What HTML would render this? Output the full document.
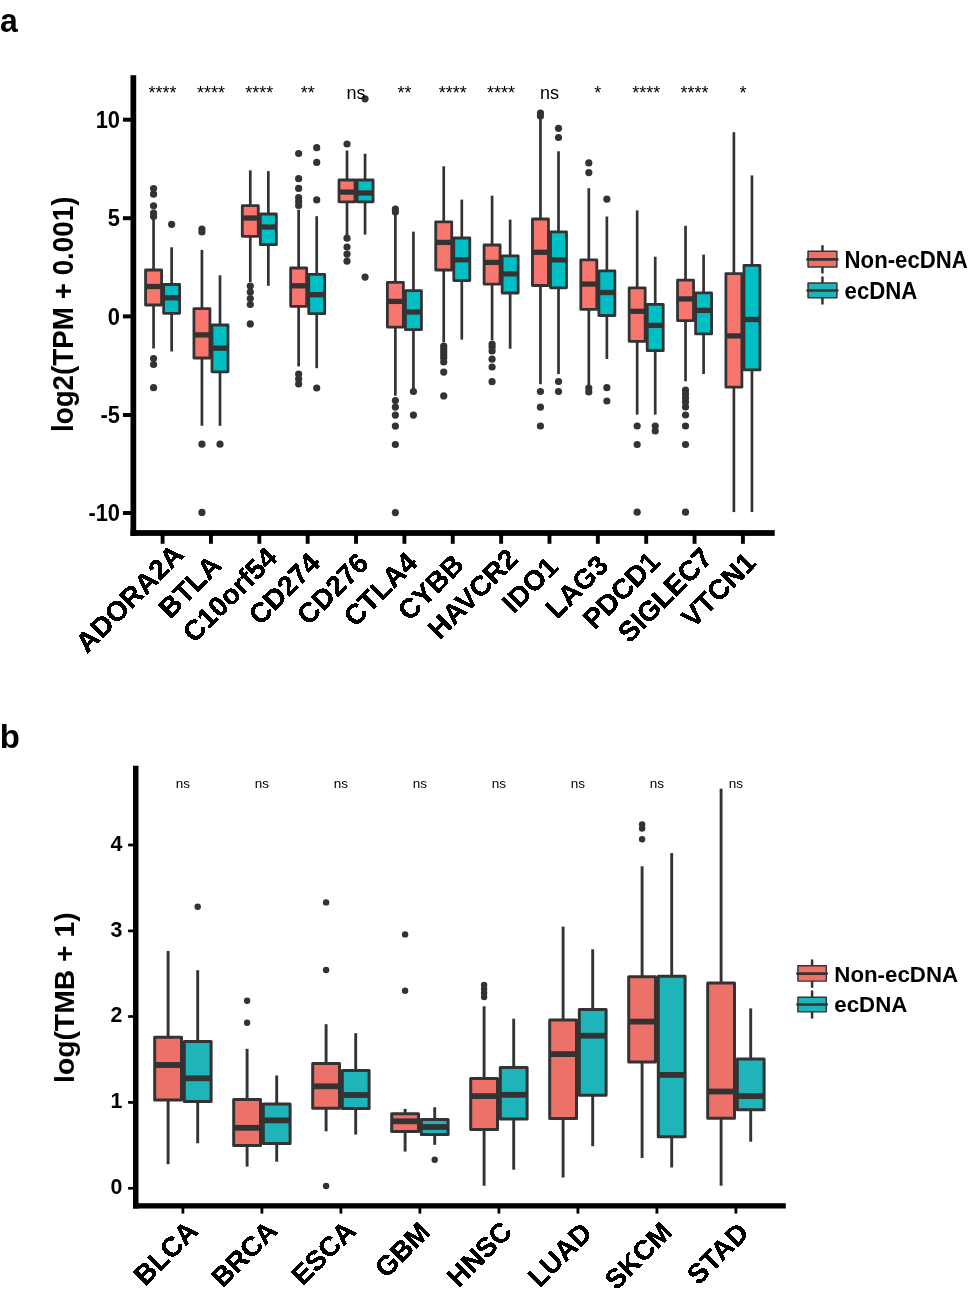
<!DOCTYPE html>
<html><head><meta charset="utf-8"><title>Boxplots</title>
<style>
html,body{margin:0;padding:0;background:#fff;}
body{width:969px;height:1299px;overflow:hidden;font-family:"Liberation Sans",sans-serif;}
svg{display:block;will-change:transform;}
</style></head>
<body>
<svg width="969" height="1299" viewBox="0 0 969 1299">
<defs><filter id="crisp" x="-0.05" y="-0.05" width="1.1" height="1.1"><feComponentTransfer><feFuncA type="discrete" tableValues="0 1 1 1"/></feComponentTransfer></filter></defs>
<rect width="969" height="1299" fill="#fff"/>
<text transform="translate(-0.1,32.4) scale(0.94,1)" font-family="Liberation Sans, sans-serif" font-weight="bold" font-size="34">a</text>
<text x="-0.2" y="748" font-family="Liberation Sans, sans-serif" font-weight="bold" font-size="33">b</text>
<g stroke="#333333" stroke-linejoin="round" fill="none">
<line x1="153.57" y1="219" x2="153.57" y2="270" stroke-width="2.7"/>
<line x1="153.57" y1="305" x2="153.57" y2="348.5" stroke-width="2.7"/>
<rect x="145.57" y="270" width="16" height="35" fill="#F8766D" stroke-width="2.8"/>
<line x1="145.57" y1="286.5" x2="161.57" y2="286.5" stroke-width="5.3"/>
<circle cx="153.57" cy="188.5" r="3.6" fill="#333" stroke="none"/>
<circle cx="153.57" cy="194.2" r="3.6" fill="#333" stroke="none"/>
<circle cx="153.57" cy="205.8" r="3.6" fill="#333" stroke="none"/>
<circle cx="153.57" cy="213" r="3.6" fill="#333" stroke="none"/>
<circle cx="153.57" cy="216.5" r="3.6" fill="#333" stroke="none"/>
<circle cx="153.57" cy="358.5" r="3.6" fill="#333" stroke="none"/>
<circle cx="153.57" cy="364.5" r="3.6" fill="#333" stroke="none"/>
<circle cx="153.57" cy="387.7" r="3.6" fill="#333" stroke="none"/>
<line x1="171.63" y1="247.3" x2="171.63" y2="284.5" stroke-width="2.7"/>
<line x1="171.63" y1="313.3" x2="171.63" y2="351.5" stroke-width="2.7"/>
<rect x="163.63" y="284.5" width="16" height="28.8" fill="#00BFC4" stroke-width="2.8"/>
<line x1="163.63" y1="297.8" x2="179.63" y2="297.8" stroke-width="5.3"/>
<circle cx="171.63" cy="224.3" r="3.6" fill="#333" stroke="none"/>
<line x1="201.93" y1="249.9" x2="201.93" y2="308.7" stroke-width="2.7"/>
<line x1="201.93" y1="358" x2="201.93" y2="425.8" stroke-width="2.7"/>
<rect x="193.93" y="308.7" width="16" height="49.3" fill="#F8766D" stroke-width="2.8"/>
<line x1="193.93" y1="334.9" x2="209.93" y2="334.9" stroke-width="5.3"/>
<circle cx="201.93" cy="229" r="3.6" fill="#333" stroke="none"/>
<circle cx="201.93" cy="232" r="3.6" fill="#333" stroke="none"/>
<circle cx="201.93" cy="444.2" r="3.6" fill="#333" stroke="none"/>
<circle cx="201.93" cy="512.4" r="3.6" fill="#333" stroke="none"/>
<line x1="219.99" y1="275.3" x2="219.99" y2="325" stroke-width="2.7"/>
<line x1="219.99" y1="371.8" x2="219.99" y2="425.8" stroke-width="2.7"/>
<rect x="211.99" y="325" width="16" height="46.8" fill="#00BFC4" stroke-width="2.8"/>
<line x1="211.99" y1="348.2" x2="227.99" y2="348.2" stroke-width="5.3"/>
<circle cx="219.99" cy="444.2" r="3.6" fill="#333" stroke="none"/>
<line x1="250.29" y1="170.4" x2="250.29" y2="205.6" stroke-width="2.7"/>
<line x1="250.29" y1="236.3" x2="250.29" y2="282" stroke-width="2.7"/>
<rect x="242.29" y="205.6" width="16" height="30.7" fill="#F8766D" stroke-width="2.8"/>
<line x1="242.29" y1="218" x2="258.29" y2="218" stroke-width="5.3"/>
<circle cx="250.29" cy="286" r="3.6" fill="#333" stroke="none"/>
<circle cx="250.29" cy="292" r="3.6" fill="#333" stroke="none"/>
<circle cx="250.29" cy="298.5" r="3.6" fill="#333" stroke="none"/>
<circle cx="250.29" cy="304.5" r="3.6" fill="#333" stroke="none"/>
<circle cx="250.29" cy="323.9" r="3.6" fill="#333" stroke="none"/>
<line x1="268.35" y1="171.1" x2="268.35" y2="214" stroke-width="2.7"/>
<line x1="268.35" y1="244.7" x2="268.35" y2="285.8" stroke-width="2.7"/>
<rect x="260.35" y="214" width="16" height="30.7" fill="#00BFC4" stroke-width="2.8"/>
<line x1="260.35" y1="227" x2="276.35" y2="227" stroke-width="5.3"/>
<line x1="298.65" y1="209.7" x2="298.65" y2="268" stroke-width="2.7"/>
<line x1="298.65" y1="306.3" x2="298.65" y2="366.4" stroke-width="2.7"/>
<rect x="290.65" y="268" width="16" height="38.3" fill="#F8766D" stroke-width="2.8"/>
<line x1="290.65" y1="285.8" x2="306.65" y2="285.8" stroke-width="5.3"/>
<circle cx="298.65" cy="153.5" r="3.6" fill="#333" stroke="none"/>
<circle cx="298.65" cy="178.7" r="3.6" fill="#333" stroke="none"/>
<circle cx="298.65" cy="188.4" r="3.6" fill="#333" stroke="none"/>
<circle cx="298.65" cy="197.5" r="3.6" fill="#333" stroke="none"/>
<circle cx="298.65" cy="201.5" r="3.6" fill="#333" stroke="none"/>
<circle cx="298.65" cy="205.5" r="3.6" fill="#333" stroke="none"/>
<circle cx="298.65" cy="374" r="3.6" fill="#333" stroke="none"/>
<circle cx="298.65" cy="379" r="3.6" fill="#333" stroke="none"/>
<circle cx="298.65" cy="384" r="3.6" fill="#333" stroke="none"/>
<line x1="316.71" y1="216.2" x2="316.71" y2="274.4" stroke-width="2.7"/>
<line x1="316.71" y1="313.7" x2="316.71" y2="368.2" stroke-width="2.7"/>
<rect x="308.71" y="274.4" width="16" height="39.3" fill="#00BFC4" stroke-width="2.8"/>
<line x1="308.71" y1="294.7" x2="324.71" y2="294.7" stroke-width="5.3"/>
<circle cx="316.71" cy="147.7" r="3.6" fill="#333" stroke="none"/>
<circle cx="316.71" cy="162.4" r="3.6" fill="#333" stroke="none"/>
<circle cx="316.71" cy="199.9" r="3.6" fill="#333" stroke="none"/>
<circle cx="316.71" cy="388" r="3.6" fill="#333" stroke="none"/>
<line x1="347.01" y1="150.5" x2="347.01" y2="180" stroke-width="2.7"/>
<line x1="347.01" y1="201.8" x2="347.01" y2="235.5" stroke-width="2.7"/>
<rect x="339.01" y="180" width="16" height="21.8" fill="#F8766D" stroke-width="2.8"/>
<line x1="339.01" y1="192.1" x2="355.01" y2="192.1" stroke-width="5.3"/>
<circle cx="347.01" cy="144" r="3.6" fill="#333" stroke="none"/>
<circle cx="347.01" cy="238.2" r="3.6" fill="#333" stroke="none"/>
<circle cx="347.01" cy="247" r="3.6" fill="#333" stroke="none"/>
<circle cx="347.01" cy="254.1" r="3.6" fill="#333" stroke="none"/>
<circle cx="347.01" cy="261.2" r="3.6" fill="#333" stroke="none"/>
<line x1="365.07" y1="153.7" x2="365.07" y2="180" stroke-width="2.7"/>
<line x1="365.07" y1="201.8" x2="365.07" y2="234.6" stroke-width="2.7"/>
<rect x="357.07" y="180" width="16" height="21.8" fill="#00BFC4" stroke-width="2.8"/>
<line x1="357.07" y1="193" x2="373.07" y2="193" stroke-width="5.3"/>
<circle cx="365.07" cy="98.8" r="3.6" fill="#333" stroke="none"/>
<circle cx="365.07" cy="277.1" r="3.6" fill="#333" stroke="none"/>
<line x1="395.37" y1="213" x2="395.37" y2="282.3" stroke-width="2.7"/>
<line x1="395.37" y1="327.1" x2="395.37" y2="395.7" stroke-width="2.7"/>
<rect x="387.37" y="282.3" width="16" height="44.8" fill="#F8766D" stroke-width="2.8"/>
<line x1="387.37" y1="301.4" x2="403.37" y2="301.4" stroke-width="5.3"/>
<circle cx="395.37" cy="209" r="3.6" fill="#333" stroke="none"/>
<circle cx="395.37" cy="212" r="3.6" fill="#333" stroke="none"/>
<circle cx="395.37" cy="400.5" r="3.6" fill="#333" stroke="none"/>
<circle cx="395.37" cy="407.1" r="3.6" fill="#333" stroke="none"/>
<circle cx="395.37" cy="415.1" r="3.6" fill="#333" stroke="none"/>
<circle cx="395.37" cy="426.1" r="3.6" fill="#333" stroke="none"/>
<circle cx="395.37" cy="444.5" r="3.6" fill="#333" stroke="none"/>
<circle cx="395.37" cy="512.6" r="3.6" fill="#333" stroke="none"/>
<line x1="413.43" y1="231.6" x2="413.43" y2="290.7" stroke-width="2.7"/>
<line x1="413.43" y1="329.7" x2="413.43" y2="391" stroke-width="2.7"/>
<rect x="405.43" y="290.7" width="16" height="39" fill="#00BFC4" stroke-width="2.8"/>
<line x1="405.43" y1="312" x2="421.43" y2="312" stroke-width="5.3"/>
<circle cx="413.43" cy="391.5" r="3.6" fill="#333" stroke="none"/>
<circle cx="413.43" cy="415.1" r="3.6" fill="#333" stroke="none"/>
<line x1="443.73" y1="166.3" x2="443.73" y2="221.8" stroke-width="2.7"/>
<line x1="443.73" y1="270" x2="443.73" y2="342.2" stroke-width="2.7"/>
<rect x="435.73" y="221.8" width="16" height="48.2" fill="#F8766D" stroke-width="2.8"/>
<line x1="435.73" y1="242.4" x2="451.73" y2="242.4" stroke-width="5.3"/>
<circle cx="443.73" cy="346" r="3.6" fill="#333" stroke="none"/>
<circle cx="443.73" cy="349" r="3.6" fill="#333" stroke="none"/>
<circle cx="443.73" cy="352" r="3.6" fill="#333" stroke="none"/>
<circle cx="443.73" cy="355" r="3.6" fill="#333" stroke="none"/>
<circle cx="443.73" cy="358" r="3.6" fill="#333" stroke="none"/>
<circle cx="443.73" cy="362" r="3.6" fill="#333" stroke="none"/>
<circle cx="443.73" cy="372.1" r="3.6" fill="#333" stroke="none"/>
<circle cx="443.73" cy="395.9" r="3.6" fill="#333" stroke="none"/>
<line x1="461.79" y1="199.6" x2="461.79" y2="238" stroke-width="2.7"/>
<line x1="461.79" y1="280.6" x2="461.79" y2="339.6" stroke-width="2.7"/>
<rect x="453.79" y="238" width="16" height="42.6" fill="#00BFC4" stroke-width="2.8"/>
<line x1="453.79" y1="259.8" x2="469.79" y2="259.8" stroke-width="5.3"/>
<line x1="492.09" y1="195.7" x2="492.09" y2="245" stroke-width="2.7"/>
<line x1="492.09" y1="284.1" x2="492.09" y2="340.1" stroke-width="2.7"/>
<rect x="484.09" y="245" width="16" height="39.1" fill="#F8766D" stroke-width="2.8"/>
<line x1="484.09" y1="262.4" x2="500.09" y2="262.4" stroke-width="5.3"/>
<circle cx="492.09" cy="344" r="3.6" fill="#333" stroke="none"/>
<circle cx="492.09" cy="347" r="3.6" fill="#333" stroke="none"/>
<circle cx="492.09" cy="351" r="3.6" fill="#333" stroke="none"/>
<circle cx="492.09" cy="359.2" r="3.6" fill="#333" stroke="none"/>
<circle cx="492.09" cy="367" r="3.6" fill="#333" stroke="none"/>
<circle cx="492.09" cy="381.7" r="3.6" fill="#333" stroke="none"/>
<line x1="510.15" y1="219.6" x2="510.15" y2="255.8" stroke-width="2.7"/>
<line x1="510.15" y1="293" x2="510.15" y2="348.7" stroke-width="2.7"/>
<rect x="502.15" y="255.8" width="16" height="37.2" fill="#00BFC4" stroke-width="2.8"/>
<line x1="502.15" y1="273.9" x2="518.15" y2="273.9" stroke-width="5.3"/>
<line x1="540.45" y1="117" x2="540.45" y2="219" stroke-width="2.7"/>
<line x1="540.45" y1="285.5" x2="540.45" y2="384.2" stroke-width="2.7"/>
<rect x="532.45" y="219" width="16" height="66.5" fill="#F8766D" stroke-width="2.8"/>
<line x1="532.45" y1="252.3" x2="548.45" y2="252.3" stroke-width="5.3"/>
<circle cx="540.45" cy="113" r="3.6" fill="#333" stroke="none"/>
<circle cx="540.45" cy="116" r="3.6" fill="#333" stroke="none"/>
<circle cx="540.45" cy="391.5" r="3.6" fill="#333" stroke="none"/>
<circle cx="540.45" cy="407.2" r="3.6" fill="#333" stroke="none"/>
<circle cx="540.45" cy="426" r="3.6" fill="#333" stroke="none"/>
<line x1="558.51" y1="151.3" x2="558.51" y2="231.8" stroke-width="2.7"/>
<line x1="558.51" y1="287.8" x2="558.51" y2="374.1" stroke-width="2.7"/>
<rect x="550.51" y="231.8" width="16" height="56" fill="#00BFC4" stroke-width="2.8"/>
<line x1="550.51" y1="259.9" x2="566.51" y2="259.9" stroke-width="5.3"/>
<circle cx="558.51" cy="128.3" r="3.6" fill="#333" stroke="none"/>
<circle cx="558.51" cy="137.5" r="3.6" fill="#333" stroke="none"/>
<circle cx="558.51" cy="381.5" r="3.6" fill="#333" stroke="none"/>
<circle cx="558.51" cy="391.5" r="3.6" fill="#333" stroke="none"/>
<line x1="588.81" y1="188.2" x2="588.81" y2="259.8" stroke-width="2.7"/>
<line x1="588.81" y1="309.4" x2="588.81" y2="385.6" stroke-width="2.7"/>
<rect x="580.81" y="259.8" width="16" height="49.6" fill="#F8766D" stroke-width="2.8"/>
<line x1="580.81" y1="284.1" x2="596.81" y2="284.1" stroke-width="5.3"/>
<circle cx="588.81" cy="162.9" r="3.6" fill="#333" stroke="none"/>
<circle cx="588.81" cy="172.6" r="3.6" fill="#333" stroke="none"/>
<circle cx="588.81" cy="388" r="3.6" fill="#333" stroke="none"/>
<circle cx="588.81" cy="392" r="3.6" fill="#333" stroke="none"/>
<line x1="606.87" y1="216.5" x2="606.87" y2="270.9" stroke-width="2.7"/>
<line x1="606.87" y1="315.5" x2="606.87" y2="359" stroke-width="2.7"/>
<rect x="598.87" y="270.9" width="16" height="44.6" fill="#00BFC4" stroke-width="2.8"/>
<line x1="598.87" y1="292.5" x2="614.87" y2="292.5" stroke-width="5.3"/>
<circle cx="606.87" cy="199.2" r="3.6" fill="#333" stroke="none"/>
<circle cx="606.87" cy="387.7" r="3.6" fill="#333" stroke="none"/>
<circle cx="606.87" cy="401" r="3.6" fill="#333" stroke="none"/>
<line x1="637.17" y1="210.4" x2="637.17" y2="287.8" stroke-width="2.7"/>
<line x1="637.17" y1="341.3" x2="637.17" y2="414.6" stroke-width="2.7"/>
<rect x="629.17" y="287.8" width="16" height="53.5" fill="#F8766D" stroke-width="2.8"/>
<line x1="629.17" y1="311.3" x2="645.17" y2="311.3" stroke-width="5.3"/>
<circle cx="637.17" cy="426" r="3.6" fill="#333" stroke="none"/>
<circle cx="637.17" cy="444.5" r="3.6" fill="#333" stroke="none"/>
<circle cx="637.17" cy="512.2" r="3.6" fill="#333" stroke="none"/>
<line x1="655.23" y1="256.7" x2="655.23" y2="304.3" stroke-width="2.7"/>
<line x1="655.23" y1="350.7" x2="655.23" y2="414.6" stroke-width="2.7"/>
<rect x="647.23" y="304.3" width="16" height="46.4" fill="#00BFC4" stroke-width="2.8"/>
<line x1="647.23" y1="325.4" x2="663.23" y2="325.4" stroke-width="5.3"/>
<circle cx="655.23" cy="426" r="3.6" fill="#333" stroke="none"/>
<circle cx="655.23" cy="431" r="3.6" fill="#333" stroke="none"/>
<line x1="685.53" y1="225.8" x2="685.53" y2="280.2" stroke-width="2.7"/>
<line x1="685.53" y1="320.6" x2="685.53" y2="381.3" stroke-width="2.7"/>
<rect x="677.53" y="280.2" width="16" height="40.4" fill="#F8766D" stroke-width="2.8"/>
<line x1="677.53" y1="298.9" x2="693.53" y2="298.9" stroke-width="5.3"/>
<circle cx="685.53" cy="390" r="3.6" fill="#333" stroke="none"/>
<circle cx="685.53" cy="394" r="3.6" fill="#333" stroke="none"/>
<circle cx="685.53" cy="398" r="3.6" fill="#333" stroke="none"/>
<circle cx="685.53" cy="402" r="3.6" fill="#333" stroke="none"/>
<circle cx="685.53" cy="407" r="3.6" fill="#333" stroke="none"/>
<circle cx="685.53" cy="415" r="3.6" fill="#333" stroke="none"/>
<circle cx="685.53" cy="426" r="3.6" fill="#333" stroke="none"/>
<circle cx="685.53" cy="444.5" r="3.6" fill="#333" stroke="none"/>
<circle cx="685.53" cy="512.2" r="3.6" fill="#333" stroke="none"/>
<line x1="703.59" y1="254.6" x2="703.59" y2="292.8" stroke-width="2.7"/>
<line x1="703.59" y1="333.9" x2="703.59" y2="374" stroke-width="2.7"/>
<rect x="695.59" y="292.8" width="16" height="41.1" fill="#00BFC4" stroke-width="2.8"/>
<line x1="695.59" y1="310.4" x2="711.59" y2="310.4" stroke-width="5.3"/>
<line x1="733.89" y1="132.2" x2="733.89" y2="273.7" stroke-width="2.7"/>
<line x1="733.89" y1="387.2" x2="733.89" y2="512.1" stroke-width="2.7"/>
<rect x="725.89" y="273.7" width="16" height="113.5" fill="#F8766D" stroke-width="2.8"/>
<line x1="725.89" y1="335.9" x2="741.89" y2="335.9" stroke-width="5.3"/>
<line x1="751.95" y1="175.4" x2="751.95" y2="265.4" stroke-width="2.7"/>
<line x1="751.95" y1="369.9" x2="751.95" y2="512.1" stroke-width="2.7"/>
<rect x="743.95" y="265.4" width="16" height="104.5" fill="#00BFC4" stroke-width="2.8"/>
<line x1="743.95" y1="319.5" x2="759.95" y2="319.5" stroke-width="5.3"/>
</g>
<g fill="#000">
<rect x="130.5" y="75.2" width="5.7" height="460.8"/>
<rect x="130.5" y="530.1" width="644.2" height="5.8"/>
<rect x="122.9" y="117.7" width="8" height="4"/>
<rect x="122.9" y="216.2" width="8" height="4"/>
<rect x="122.9" y="314.4" width="8" height="4"/>
<rect x="122.9" y="413" width="8" height="4"/>
<rect x="122.9" y="511" width="8" height="4"/>
<rect x="160.65" y="535" width="3.9" height="8.8"/>
<rect x="209.01" y="535" width="3.9" height="8.8"/>
<rect x="257.37" y="535" width="3.9" height="8.8"/>
<rect x="305.73" y="535" width="3.9" height="8.8"/>
<rect x="354.09" y="535" width="3.9" height="8.8"/>
<rect x="402.45" y="535" width="3.9" height="8.8"/>
<rect x="450.81" y="535" width="3.9" height="8.8"/>
<rect x="499.17" y="535" width="3.9" height="8.8"/>
<rect x="547.53" y="535" width="3.9" height="8.8"/>
<rect x="595.89" y="535" width="3.9" height="8.8"/>
<rect x="644.25" y="535" width="3.9" height="8.8"/>
<rect x="692.61" y="535" width="3.9" height="8.8"/>
<rect x="740.97" y="535" width="3.9" height="8.8"/>
</g>
<g font-family="Liberation Sans, sans-serif" font-weight="bold" font-size="22.3" text-anchor="end" fill="#000">
<text transform="translate(120,127.8) scale(0.98,1.075)">10</text>
<text transform="translate(120,226.3) scale(0.98,1.075)">5</text>
<text transform="translate(120,324.5) scale(0.98,1.075)">0</text>
<text transform="translate(120,423.1) scale(0.98,1.075)">-5</text>
<text transform="translate(120,521.1) scale(0.98,1.075)">-10</text>
</g>
<text transform="translate(73.2,314.3) rotate(-90) scale(1,1.045)" text-anchor="middle" font-family="Liberation Sans, sans-serif" font-weight="bold" font-size="27.8">log2(TPM + 0.001)</text>
<g font-family="Liberation Sans, sans-serif" font-weight="bold" font-size="28" text-anchor="end" filter="url(#crisp)">
<text transform="translate(185.26,556.26) rotate(-45)">ADORA2A</text>
<text transform="translate(223.02,566.86) rotate(-45)">BTLA</text>
<text transform="translate(278.89,559.35) rotate(-45)">C10orf54</text>
<text transform="translate(321.82,564.78) rotate(-45)">CD274</text>
<text transform="translate(370.18,564.78) rotate(-45)">CD276</text>
<text transform="translate(419.04,564.28) rotate(-45)">CTLA4</text>
<text transform="translate(465.6,566.08) rotate(-45)">CYBB</text>
<text transform="translate(519.56,560.48) rotate(-45)">HAVCR2</text>
<text transform="translate(559.99,568.41) rotate(-45)">IDO1</text>
<text transform="translate(609.9,566.86) rotate(-45)">LAG3</text>
<text transform="translate(661.62,563.5) rotate(-45)">PDCD1</text>
<text transform="translate(714.12,559.36) rotate(-45)">SIGLEC7</text>
<text transform="translate(757.83,564.01) rotate(-45)">VTCN1</text>
</g>
<g font-family="Liberation Sans, sans-serif" font-size="18" text-anchor="middle">
<text x="162.6" y="98.8">****</text>
<text x="210.96" y="98.8">****</text>
<text x="259.32" y="98.8">****</text>
<text x="307.68" y="98.8">**</text>
<text x="356.04" y="98.8">ns</text>
<text x="404.4" y="98.8">**</text>
<text x="452.76" y="98.8">****</text>
<text x="501.12" y="98.8">****</text>
<text x="549.48" y="98.8">ns</text>
<text x="597.84" y="98.8">*</text>
<text x="646.2" y="98.8">****</text>
<text x="694.56" y="98.8">****</text>
<text x="742.92" y="98.8">*</text>
</g>
<g stroke="#333333" stroke-linejoin="round" fill="none">
<line x1="168.1" y1="951" x2="168.1" y2="1037.2" stroke-width="2.9"/>
<line x1="168.1" y1="1100" x2="168.1" y2="1164.2" stroke-width="2.9"/>
<rect x="154.7" y="1037.2" width="26.8" height="62.8" fill="#EC7269" stroke-width="3"/>
<line x1="154.7" y1="1065" x2="181.5" y2="1065" stroke-width="5.8"/>
<line x1="197.7" y1="970.2" x2="197.7" y2="1041.6" stroke-width="2.9"/>
<line x1="197.7" y1="1101.4" x2="197.7" y2="1143.3" stroke-width="2.9"/>
<rect x="184.3" y="1041.6" width="26.8" height="59.8" fill="#1EB4B9" stroke-width="3"/>
<line x1="184.3" y1="1078.3" x2="211.1" y2="1078.3" stroke-width="5.8"/>
<circle cx="197.7" cy="906.8" r="3.2" fill="#333" stroke="none"/>
<line x1="247.1" y1="1048.8" x2="247.1" y2="1099.5" stroke-width="2.9"/>
<line x1="247.1" y1="1145.6" x2="247.1" y2="1166.6" stroke-width="2.9"/>
<rect x="233.7" y="1099.5" width="26.8" height="46.1" fill="#EC7269" stroke-width="3"/>
<line x1="233.7" y1="1127.8" x2="260.5" y2="1127.8" stroke-width="5.8"/>
<circle cx="247.1" cy="1000.8" r="3.2" fill="#333" stroke="none"/>
<circle cx="247.1" cy="1022.8" r="3.2" fill="#333" stroke="none"/>
<line x1="276.7" y1="1075.5" x2="276.7" y2="1104.1" stroke-width="2.9"/>
<line x1="276.7" y1="1143.6" x2="276.7" y2="1161.7" stroke-width="2.9"/>
<rect x="263.3" y="1104.1" width="26.8" height="39.5" fill="#1EB4B9" stroke-width="3"/>
<line x1="263.3" y1="1120.4" x2="290.1" y2="1120.4" stroke-width="5.8"/>
<line x1="326.1" y1="1024.2" x2="326.1" y2="1063.5" stroke-width="2.9"/>
<line x1="326.1" y1="1108.2" x2="326.1" y2="1131.3" stroke-width="2.9"/>
<rect x="312.7" y="1063.5" width="26.8" height="44.7" fill="#EC7269" stroke-width="3"/>
<line x1="312.7" y1="1086.3" x2="339.5" y2="1086.3" stroke-width="5.8"/>
<circle cx="326.1" cy="902.4" r="3.2" fill="#333" stroke="none"/>
<circle cx="326.1" cy="970" r="3.2" fill="#333" stroke="none"/>
<circle cx="326.1" cy="1186" r="3.2" fill="#333" stroke="none"/>
<line x1="355.7" y1="1033.2" x2="355.7" y2="1070.5" stroke-width="2.9"/>
<line x1="355.7" y1="1108.5" x2="355.7" y2="1134.6" stroke-width="2.9"/>
<rect x="342.3" y="1070.5" width="26.8" height="38" fill="#1EB4B9" stroke-width="3"/>
<line x1="342.3" y1="1095" x2="369.1" y2="1095" stroke-width="5.8"/>
<line x1="405.1" y1="1108.9" x2="405.1" y2="1113.7" stroke-width="2.9"/>
<line x1="405.1" y1="1131.6" x2="405.1" y2="1151.6" stroke-width="2.9"/>
<rect x="391.7" y="1113.7" width="26.8" height="17.9" fill="#EC7269" stroke-width="3"/>
<line x1="391.7" y1="1121.3" x2="418.5" y2="1121.3" stroke-width="5.8"/>
<circle cx="405.1" cy="934.4" r="3.2" fill="#333" stroke="none"/>
<circle cx="405.1" cy="990.7" r="3.2" fill="#333" stroke="none"/>
<line x1="434.7" y1="1107.3" x2="434.7" y2="1119.6" stroke-width="2.9"/>
<line x1="434.7" y1="1134.4" x2="434.7" y2="1144.8" stroke-width="2.9"/>
<rect x="421.3" y="1119.6" width="26.8" height="14.8" fill="#1EB4B9" stroke-width="3"/>
<line x1="421.3" y1="1127" x2="448.1" y2="1127" stroke-width="5.8"/>
<circle cx="434.7" cy="1159.7" r="3.2" fill="#333" stroke="none"/>
<line x1="484.1" y1="1006.3" x2="484.1" y2="1078.5" stroke-width="2.9"/>
<line x1="484.1" y1="1129.4" x2="484.1" y2="1185.7" stroke-width="2.9"/>
<rect x="470.7" y="1078.5" width="26.8" height="50.9" fill="#EC7269" stroke-width="3"/>
<line x1="470.7" y1="1096.1" x2="497.5" y2="1096.1" stroke-width="5.8"/>
<circle cx="484.1" cy="985" r="3.2" fill="#333" stroke="none"/>
<circle cx="484.1" cy="989" r="3.2" fill="#333" stroke="none"/>
<circle cx="484.1" cy="993" r="3.2" fill="#333" stroke="none"/>
<circle cx="484.1" cy="997" r="3.2" fill="#333" stroke="none"/>
<line x1="513.7" y1="1018.7" x2="513.7" y2="1067.5" stroke-width="2.9"/>
<line x1="513.7" y1="1119.1" x2="513.7" y2="1169.7" stroke-width="2.9"/>
<rect x="500.3" y="1067.5" width="26.8" height="51.6" fill="#1EB4B9" stroke-width="3"/>
<line x1="500.3" y1="1094.8" x2="527.1" y2="1094.8" stroke-width="5.8"/>
<line x1="563.1" y1="926.6" x2="563.1" y2="1020.1" stroke-width="2.9"/>
<line x1="563.1" y1="1118.5" x2="563.1" y2="1177.5" stroke-width="2.9"/>
<rect x="549.7" y="1020.1" width="26.8" height="98.4" fill="#EC7269" stroke-width="3"/>
<line x1="549.7" y1="1054.1" x2="576.5" y2="1054.1" stroke-width="5.8"/>
<line x1="592.7" y1="949.3" x2="592.7" y2="1009.5" stroke-width="2.9"/>
<line x1="592.7" y1="1095.2" x2="592.7" y2="1146.2" stroke-width="2.9"/>
<rect x="579.3" y="1009.5" width="26.8" height="85.7" fill="#1EB4B9" stroke-width="3"/>
<line x1="579.3" y1="1035.7" x2="606.1" y2="1035.7" stroke-width="5.8"/>
<line x1="642.1" y1="866.3" x2="642.1" y2="976.7" stroke-width="2.9"/>
<line x1="642.1" y1="1062.1" x2="642.1" y2="1158" stroke-width="2.9"/>
<rect x="628.7" y="976.7" width="26.8" height="85.4" fill="#EC7269" stroke-width="3"/>
<line x1="628.7" y1="1021.6" x2="655.5" y2="1021.6" stroke-width="5.8"/>
<circle cx="642.1" cy="824.5" r="3.2" fill="#333" stroke="none"/>
<circle cx="642.1" cy="828.5" r="3.2" fill="#333" stroke="none"/>
<circle cx="642.1" cy="839.3" r="3.2" fill="#333" stroke="none"/>
<line x1="671.7" y1="853.1" x2="671.7" y2="976.2" stroke-width="2.9"/>
<line x1="671.7" y1="1136.7" x2="671.7" y2="1167.5" stroke-width="2.9"/>
<rect x="658.3" y="976.2" width="26.8" height="160.5" fill="#1EB4B9" stroke-width="3"/>
<line x1="658.3" y1="1074.9" x2="685.1" y2="1074.9" stroke-width="5.8"/>
<line x1="721.1" y1="788.7" x2="721.1" y2="982.9" stroke-width="2.9"/>
<line x1="721.1" y1="1118.2" x2="721.1" y2="1185.7" stroke-width="2.9"/>
<rect x="707.7" y="982.9" width="26.8" height="135.3" fill="#EC7269" stroke-width="3"/>
<line x1="707.7" y1="1091.5" x2="734.5" y2="1091.5" stroke-width="5.8"/>
<line x1="750.7" y1="1008.4" x2="750.7" y2="1059" stroke-width="2.9"/>
<line x1="750.7" y1="1109.7" x2="750.7" y2="1141.7" stroke-width="2.9"/>
<rect x="737.3" y="1059" width="26.8" height="50.7" fill="#1EB4B9" stroke-width="3"/>
<line x1="737.3" y1="1096.1" x2="764.1" y2="1096.1" stroke-width="5.8"/>
</g>
<g fill="#000">
<rect x="133" y="765.7" width="5.5" height="442.8"/>
<rect x="133" y="1203.2" width="652.8" height="5.3"/>
<rect x="128.1" y="843.65" width="5" height="2.7"/>
<rect x="128.1" y="929.55" width="5" height="2.7"/>
<rect x="128.1" y="1015.15" width="5" height="2.7"/>
<rect x="128.1" y="1101.05" width="5" height="2.7"/>
<rect x="128.1" y="1186.95" width="5" height="2.7"/>
<rect x="181.5" y="1208" width="2.8" height="5.6"/>
<rect x="260.5" y="1208" width="2.8" height="5.6"/>
<rect x="339.5" y="1208" width="2.8" height="5.6"/>
<rect x="418.5" y="1208" width="2.8" height="5.6"/>
<rect x="497.5" y="1208" width="2.8" height="5.6"/>
<rect x="576.5" y="1208" width="2.8" height="5.6"/>
<rect x="655.5" y="1208" width="2.8" height="5.6"/>
<rect x="734.5" y="1208" width="2.8" height="5.6"/>
</g>
<g font-family="Liberation Sans, sans-serif" font-weight="bold" font-size="21.8" text-anchor="end" fill="#000">
<text transform="translate(122.3,850.6) scale(0.98,1.05)">4</text>
<text transform="translate(122.3,936.5) scale(0.98,1.05)">3</text>
<text transform="translate(122.3,1022.1) scale(0.98,1.05)">2</text>
<text transform="translate(122.3,1108) scale(0.98,1.05)">1</text>
<text transform="translate(122.3,1193.9) scale(0.98,1.05)">0</text>
</g>
<text transform="translate(73.5,997.7) rotate(-90)" text-anchor="middle" font-family="Liberation Sans, sans-serif" font-weight="bold" font-size="28.3">log(TMB + 1)</text>
<g font-family="Liberation Sans, sans-serif" font-weight="bold" font-size="27.6" text-anchor="end" filter="url(#crisp)">
<text transform="translate(199.33,1232.5) rotate(-45)">BLCA</text>
<text transform="translate(279.12,1232.3) rotate(-45)">BRCA</text>
<text transform="translate(357.24,1232.3) rotate(-45)">ESCA</text>
<text transform="translate(431.87,1233.7) rotate(-45)">GBM</text>
<text transform="translate(513.68,1233.1) rotate(-45)">HNSC</text>
<text transform="translate(593.53,1234.4) rotate(-45)">LUAD</text>
<text transform="translate(673.67,1233.7) rotate(-45)">SKCM</text>
<text transform="translate(750.29,1234.4) rotate(-45)">STAD</text>
</g>
<g font-family="Liberation Sans, sans-serif" font-size="13.5" text-anchor="middle">
<text x="182.9" y="788">ns</text>
<text x="261.9" y="788">ns</text>
<text x="340.9" y="788">ns</text>
<text x="419.9" y="788">ns</text>
<text x="498.9" y="788">ns</text>
<text x="577.9" y="788">ns</text>
<text x="656.9" y="788">ns</text>
<text x="735.9" y="788">ns</text>
</g>
<g stroke="#333333" stroke-linejoin="round">
<line x1="822.45" y1="246.3" x2="822.45" y2="272.5" stroke-width="2.5" stroke-linecap="round"/>
<rect x="808.05" y="251.25" width="28.8" height="15.7" fill="#EC7269" stroke-width="1.5"/>
<line x1="807.5" y1="259.4" x2="837.4" y2="259.4" stroke-width="2.6" stroke-linecap="round"/>
</g>
<text transform="translate(844.6,267.9) scale(1,1.06)" font-family="Liberation Sans, sans-serif" font-weight="bold" font-size="22.2">Non-ecDNA</text>
<g stroke="#333333" stroke-linejoin="round">
<line x1="822.45" y1="277.4" x2="822.45" y2="303.6" stroke-width="2.5" stroke-linecap="round"/>
<rect x="808.05" y="283.05" width="28.8" height="14.8" fill="#1EB4B9" stroke-width="1.5"/>
<line x1="807.5" y1="290.5" x2="837.4" y2="290.5" stroke-width="2.6" stroke-linecap="round"/>
</g>
<text transform="translate(844.6,298.7) scale(1,1.06)" font-family="Liberation Sans, sans-serif" font-weight="bold" font-size="22.2">ecDNA</text>
<g stroke="#333333" stroke-linejoin="round">
<line x1="812.1" y1="960.5" x2="812.1" y2="986.7" stroke-width="2.5" stroke-linecap="round"/>
<rect x="797.9" y="965.7" width="28.4" height="15.4" fill="#EC7269" stroke-width="1.4"/>
<line x1="797.4" y1="973.6" x2="826.8" y2="973.6" stroke-width="2.6" stroke-linecap="round"/>
</g>
<text transform="translate(834.3,981.8) scale(1,1.03)" font-family="Liberation Sans, sans-serif" font-weight="bold" font-size="22.3">Non-ecDNA</text>
<g stroke="#333333" stroke-linejoin="round">
<line x1="812.1" y1="991.4" x2="812.1" y2="1017.6" stroke-width="2.5" stroke-linecap="round"/>
<rect x="797.9" y="997.3" width="28.4" height="14.6" fill="#1EB4B9" stroke-width="1.4"/>
<line x1="797.4" y1="1004.5" x2="826.8" y2="1004.5" stroke-width="2.6" stroke-linecap="round"/>
</g>
<text transform="translate(834.3,1011.9) scale(1,1.03)" font-family="Liberation Sans, sans-serif" font-weight="bold" font-size="22.3">ecDNA</text>
</svg>
</body></html>
